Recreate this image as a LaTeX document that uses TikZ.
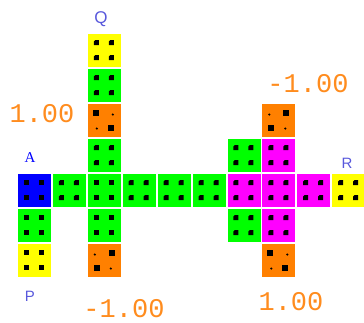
\documentclass[tikz,border=0pt]{standalone}
\usepackage{fontspec}
\newfontfamily\mono{Liberation Mono}
\newfontfamily\sans{Liberation Sans}
\newfontfamily\serif{Liberation Serif}
\definecolor{orangec}{RGB}{255,128,0}
\definecolor{orangetxt}{RGB}{255,140,30}
\definecolor{ardoise}{RGB}{88,88,220}
\definecolor{vert}{RGB}{0,255,0}
\definecolor{jaune}{RGB}{255,255,0}
\definecolor{rose}{RGB}{255,0,255}
\definecolor{bleu}{RGB}{0,0,255}

\begin{document}
\begin{tikzpicture}[x=1pt,y=-1pt,
	case/.style={minimum size=34pt,inner sep=0pt,draw=white,line width=0.8pt},
	valeur/.style={text=orangetxt,font=\mono\fontsize{27}{27}\selectfont,inner sep=0pt},
	lettre/.style={text=ardoise,font=\sans\fontsize{17}{17}\selectfont,inner sep=0pt}]
	\useasboundingbox (0,0) rectangle (364,322);
	\def \dx {34.9}%pas horizontal
	\def \dy {35}%pas vertical
	% cases
	\foreach \i/\j/\coul/\nom in {0/4/bleu/A,0/5/vert/c05,0/6/jaune/P0,1/4/vert/c14,
		2/0/jaune/Q0,2/1/vert/c21,2/2/orangec/o22,2/3/vert/c23,2/4/vert/c24,2/5/vert/c25,2/6/orangec/o26,
		3/4/vert/c34,4/4/vert/c44,5/4/vert/c54,
		6/3/vert/c63,6/4/rose/c64,6/5/vert/c65,
		7/2/orangec/o72,7/3/rose/c73,7/4/rose/c74,7/5/rose/c75,7/6/orangec/o76,
		8/4/rose/c84,9/4/jaune/R0}{
		\node[case,fill=\coul] (\nom) at ({34.5+\dx*\i},{50.5+\dy*\j}) {};
		}
	% points carres
	\foreach \nom in {A,c05,P0,c24,c25}{
		\foreach \a/\b in {-8/-8,7/-8,-8/7,7/7}
			\fill ([shift={(\a,\b)}]\nom.center) ++(-2.5,-2.5) rectangle ++(5,5);
		}
	% points en goutte
	\foreach \nom in {c14,Q0,c21,c23,c34,c44,c54,c63,c64,c65,c73,c74,c75,c84,R0}{
		\foreach \a/\b in {-8/-8,7/-8,-8/7,7/7}
			\fill ([shift={(\a,\b)}]\nom.center) ++(-2.5,-1) -- ++(1.5,-1.5) -- ++(3.5,0) -- ++(0,5) -- ++(-5,0) -- cycle;
		}
	% cases orange
	\foreach \nom/\s in {o22/1,o76/1,o26/-1,o72/-1}{
		\fill ([shift={({-8*\s-0.5},-8)}]\nom.center) ++(-3,-3) rectangle ++(6,6);
		\fill ([shift={({7*\s-0.5},7)}]\nom.center) ++(-3,-3) rectangle ++(6,6);
		\fill ([shift={({9*\s-0.5},-6)}]\nom.center) circle (1.2);
		\fill ([shift={({-7*\s-0.5},8)}]\nom.center) circle (1.2);
		}
	% legende
	\node[lettre] (Q) at (101,19) {Q};
	\node[text=bleu,font=\serif\fontsize{15}{15}\selectfont,inner sep=0pt] (lA) at (30,158) {A};
	\node[lettre,font=\sans\fontsize{15}{15}\selectfont] (P) at (30,296) {P};
	\node[lettre,font=\sans\fontsize{15}{15}\selectfont] (R) at (347,163) {R};
	\node[valeur] (v1) at (42,114) {1.00};
	\node[valeur] (v2) at (308,84) {-1.00};
	\node[valeur] (v3) at (124,309) {-1.00};
	\node[valeur] (v4) at (291,302) {1.00};
\end{tikzpicture}
\end{document}
